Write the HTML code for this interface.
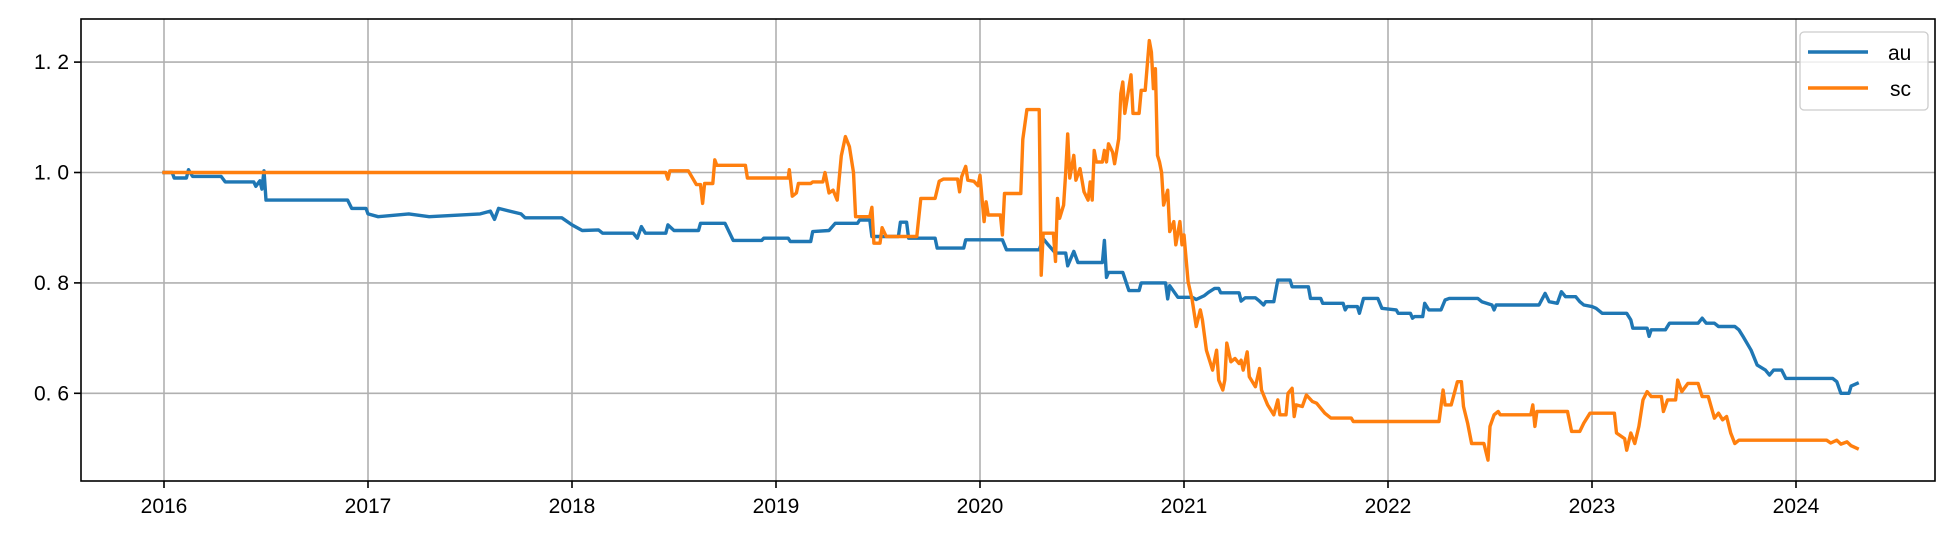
<!DOCTYPE html>
<html><head><meta charset="utf-8"><style>
html,body{margin:0;padding:0;background:#fff;width:1960px;height:543px;overflow:hidden}
svg text{font-family:"Liberation Sans","Noto Sans CJK SC",sans-serif;fill:#000}
</style></head><body>
<svg id="chart" width="1960" height="543" xmlns="http://www.w3.org/2000/svg">
<g id="grid"></g>
<g id="series"></g>
<rect x="81" y="19" width="1854" height="462" fill="none" stroke="#000" stroke-width="1.6"/>
<g id="axes"></g>
<g>
<rect x="1800" y="32" width="128" height="78" rx="4" fill="#fff" fill-opacity="0.8" stroke="#ccc" stroke-width="1.3"/>
<g><line x1="1808" y1="52" x2="1868" y2="52" stroke="#1f77b4" stroke-width="3.5"/><text x="1888" y="60" font-size="21">au</text></g>
<g><line x1="1808" y1="88" x2="1868" y2="88" stroke="#ff7f0e" stroke-width="3.5"/><text x="1890" y="96" font-size="21">sc</text></g>
</g>
</svg>
<script>
const xTicks=[2016,2017,2018,2019,2020,2021,2022,2023,2024];
const yTicks=[0.6,0.8,1.0,1.2];
const yTickLabels=["0. 6","0. 8","1. 0","1. 2"];
const auDates=[2016.00,2016.04,2016.05,2016.11,2016.12,2016.14,2016.28,2016.30,2016.44,2016.45,2016.47,2016.48,2016.49,2016.50,2016.90,2016.92,2016.99,2017.00,2017.05,2017.20,2017.30,2017.55,2017.60,2017.62,2017.64,2017.75,2017.77,2017.95,2018.00,2018.05,2018.13,2018.15,2018.30,2018.32,2018.34,2018.36,2018.46,2018.47,2018.50,2018.62,2018.63,2018.75,2018.79,2018.93,2018.94,2019.06,2019.07,2019.17,2019.18,2019.26,2019.29,2019.40,2019.41,2019.46,2019.47,2019.60,2019.61,2019.64,2019.65,2019.78,2019.79,2019.92,2019.93,2020.11,2020.13,2020.29,2020.31,2020.33,2020.37,2020.42,2020.43,2020.46,2020.48,2020.60,2020.61,2020.62,2020.63,2020.70,2020.73,2020.78,2020.79,2020.91,2020.92,2020.93,2020.97,2021.04,2021.06,2021.10,2021.12,2021.15,2021.17,2021.18,2021.27,2021.28,2021.30,2021.35,2021.37,2021.39,2021.40,2021.44,2021.46,2021.52,2021.53,2021.61,2021.62,2021.67,2021.68,2021.78,2021.79,2021.80,2021.85,2021.86,2021.88,2021.95,2021.97,2022.04,2022.05,2022.11,2022.12,2022.13,2022.17,2022.18,2022.20,2022.26,2022.28,2022.30,2022.44,2022.46,2022.51,2022.52,2022.53,2022.74,2022.77,2022.79,2022.83,2022.85,2022.87,2022.92,2022.94,2022.96,2023.00,2023.02,2023.05,2023.17,2023.19,2023.20,2023.27,2023.28,2023.29,2023.36,2023.38,2023.52,2023.54,2023.56,2023.60,2023.62,2023.70,2023.72,2023.74,2023.78,2023.81,2023.85,2023.87,2023.89,2023.93,2023.95,2024.18,2024.20,2024.22,2024.26,2024.27,2024.30];
const auValues=[1.0,1.0,0.99,0.99,1.005,0.993,0.993,0.983,0.983,0.975,0.985,0.97,1.003,0.95,0.95,0.935,0.935,0.925,0.92,0.925,0.92,0.925,0.93,0.915,0.935,0.925,0.918,0.918,0.905,0.895,0.896,0.89,0.89,0.881,0.902,0.89,0.89,0.905,0.895,0.895,0.908,0.908,0.877,0.877,0.881,0.881,0.875,0.875,0.893,0.895,0.908,0.908,0.914,0.914,0.884,0.884,0.91,0.91,0.881,0.881,0.863,0.863,0.878,0.878,0.860,0.860,0.88,0.871,0.854,0.854,0.831,0.857,0.837,0.837,0.877,0.81,0.819,0.819,0.786,0.786,0.8,0.8,0.771,0.795,0.774,0.774,0.77,0.777,0.783,0.79,0.79,0.782,0.782,0.767,0.773,0.773,0.767,0.76,0.766,0.766,0.805,0.805,0.793,0.793,0.772,0.772,0.763,0.763,0.751,0.757,0.757,0.745,0.772,0.772,0.754,0.751,0.745,0.745,0.736,0.739,0.739,0.763,0.751,0.751,0.769,0.772,0.772,0.766,0.760,0.751,0.760,0.760,0.781,0.766,0.763,0.784,0.775,0.775,0.766,0.760,0.757,0.754,0.745,0.745,0.733,0.718,0.718,0.703,0.715,0.715,0.727,0.727,0.736,0.727,0.727,0.721,0.721,0.715,0.703,0.678,0.651,0.642,0.633,0.642,0.642,0.627,0.627,0.621,0.600,0.600,0.613,0.618];
const scDates=[2016.00,2018.46,2018.47,2018.48,2018.57,2018.61,2018.63,2018.64,2018.65,2018.69,2018.70,2018.71,2018.85,2018.86,2019.06,2019.065,2019.08,2019.10,2019.11,2019.17,2019.18,2019.23,2019.24,2019.26,2019.28,2019.30,2019.32,2019.34,2019.36,2019.38,2019.39,2019.46,2019.47,2019.48,2019.51,2019.52,2019.54,2019.69,2019.71,2019.78,2019.80,2019.82,2019.89,2019.90,2019.91,2019.93,2019.94,2019.97,2019.99,2020.00,2020.02,2020.03,2020.04,2020.10,2020.11,2020.12,2020.20,2020.21,2020.23,2020.29,2020.30,2020.31,2020.36,2020.37,2020.38,2020.39,2020.41,2020.42,2020.43,2020.44,2020.46,2020.47,2020.49,2020.51,2020.53,2020.54,2020.55,2020.56,2020.57,2020.60,2020.61,2020.62,2020.63,2020.65,2020.66,2020.68,2020.69,2020.70,2020.71,2020.74,2020.75,2020.78,2020.79,2020.81,2020.83,2020.84,2020.85,2020.86,2020.87,2020.88,2020.89,2020.90,2020.92,2020.93,2020.95,2020.96,2020.98,2020.99,2021.00,2021.02,2021.04,2021.06,2021.08,2021.09,2021.11,2021.14,2021.16,2021.17,2021.19,2021.20,2021.21,2021.23,2021.25,2021.27,2021.28,2021.29,2021.31,2021.32,2021.35,2021.37,2021.38,2021.41,2021.44,2021.46,2021.47,2021.50,2021.51,2021.53,2021.54,2021.55,2021.58,2021.60,2021.63,2021.65,2021.67,2021.69,2021.72,2021.82,2021.83,2022.25,2022.27,2022.28,2022.31,2022.34,2022.36,2022.37,2022.39,2022.41,2022.47,2022.49,2022.50,2022.52,2022.54,2022.55,2022.70,2022.71,2022.72,2022.73,2022.88,2022.90,2022.94,2022.96,2022.99,2023.11,2023.12,2023.16,2023.17,2023.19,2023.21,2023.23,2023.25,2023.27,2023.29,2023.34,2023.35,2023.37,2023.41,2023.42,2023.44,2023.47,2023.52,2023.54,2023.57,2023.60,2023.62,2023.64,2023.66,2023.68,2023.70,2023.72,2024.15,2024.17,2024.20,2024.22,2024.25,2024.27,2024.30];
const scValues=[1.0,1.0,0.988,1.003,1.003,0.978,0.978,0.944,0.98,0.98,1.023,1.013,1.013,0.99,0.99,1.005,0.957,0.963,0.98,0.98,0.983,0.983,1.0,0.963,0.968,0.95,1.03,1.065,1.047,1.0,0.92,0.92,0.937,0.872,0.872,0.9,0.884,0.884,0.953,0.953,0.984,0.988,0.988,0.965,0.992,1.011,0.986,0.984,0.976,0.995,0.911,0.947,0.923,0.923,0.887,0.962,0.962,1.06,1.114,1.114,0.814,0.89,0.89,0.839,0.953,0.917,0.941,1.0,1.07,0.99,1.031,0.986,1.007,0.965,0.95,0.983,0.95,1.04,1.019,1.019,1.04,1.019,1.052,1.037,1.016,1.061,1.143,1.164,1.107,1.177,1.107,1.107,1.149,1.149,1.239,1.218,1.152,1.188,1.031,1.019,1.0,0.941,0.968,0.893,0.911,0.869,0.911,0.869,0.887,0.802,0.769,0.721,0.751,0.733,0.678,0.642,0.678,0.624,0.606,0.624,0.691,0.657,0.663,0.654,0.660,0.642,0.675,0.630,0.612,0.645,0.606,0.579,0.561,0.588,0.561,0.561,0.6,0.609,0.558,0.579,0.576,0.597,0.585,0.582,0.573,0.564,0.555,0.555,0.549,0.549,0.606,0.579,0.579,0.621,0.621,0.576,0.546,0.509,0.509,0.479,0.540,0.561,0.567,0.561,0.561,0.579,0.54,0.567,0.567,0.531,0.531,0.546,0.564,0.564,0.528,0.518,0.497,0.528,0.509,0.540,0.588,0.603,0.594,0.594,0.567,0.588,0.588,0.624,0.603,0.618,0.618,0.594,0.594,0.555,0.564,0.552,0.558,0.528,0.509,0.515,0.515,0.51,0.515,0.508,0.512,0.505,0.50];

const NS="http://www.w3.org/2000/svg";
const L=81,R=1935,T=19,B=481;
function xs(t){return 164+(t-2016)*204;}
function ys(v){return 172.5-(v-1)*552;}
function mk(tag,attrs,parent){const e=document.createElementNS(NS,tag);for(const k in attrs)e.setAttribute(k,attrs[k]);parent.appendChild(e);return e;}
const grid=document.getElementById('grid'),axes=document.getElementById('axes'),series=document.getElementById('series');
xTicks.forEach(t=>{
  const x=xs(t);
  const g=mk('line',{x1:x,y1:T,x2:x,y2:B,stroke:'#b0b0b0','stroke-width':1.6},grid);
  
  
  const tk=mk('line',{x1:x,y1:B,x2:x,y2:B+7,stroke:'#000','stroke-width':1.6},axes);
  
  
  const tx=mk('text',{x:x,y:B+32,'text-anchor':'middle','font-size':21},axes);
  tx.textContent=String(t);
  
  
});
yTicks.forEach((v,i)=>{
  const y=ys(v);
  const g=mk('line',{x1:L,y1:y,x2:R,y2:y,stroke:'#b0b0b0','stroke-width':1.6},grid);
  
  
  const tk=mk('line',{x1:L-7,y1:y,x2:L,y2:y,stroke:'#000','stroke-width':1.6},axes);
  
  
  const tx=mk('text',{x:L-12,y:y+7,'text-anchor':'end','font-size':21},axes);
  tx.textContent=yTickLabels[i];
  
  
});
function draw(d,v,color,name){
  const pts=d.map((t,i)=>xs(t).toFixed(1)+','+ys(v[i]).toFixed(1)).join(' ');
  const p=mk('polyline',{points:pts,fill:'none',stroke:color,'stroke-width':3.4,'stroke-linejoin':'round','stroke-linecap':'square'},series);
  
  
}
draw(auDates,auValues,'#1f77b4','au-line');
draw(scDates,scValues,'#ff7f0e','sc-line');
</script>
</body></html>
